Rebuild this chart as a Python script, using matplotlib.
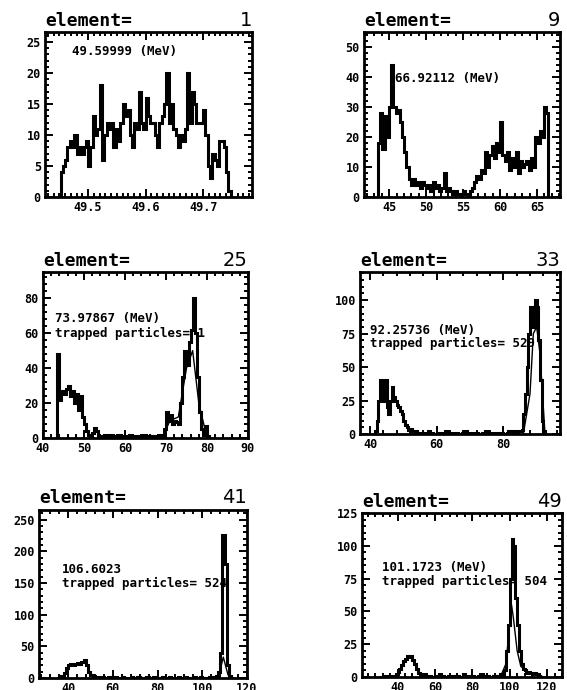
import matplotlib
matplotlib.use("Agg")

import matplotlib.pyplot as plt
import numpy as np
from matplotlib.ticker import AutoMinorLocator, MultipleLocator


# ---- data ----

elements = [1, 9, 25, 33, 41, 49]

energy_labels = [
    "49.59999 (MeV)",
    "66.92112 (MeV)",
    "73.97867 (MeV)",
    "92.25736 (MeV)",
    "106.6023",
    "101.1723 (MeV)",
]
trapped_labels = [
    None,
    None,
    "trapped particles= 1",
    "trapped particles= 529",
    "trapped particles= 524",
    "trapped particles= 504",
]

# element 1
counts_1_start, counts_1_width = 49.452, 0.004
counts_1 = [4, 5, 6, 8, 9, 8, 10, 7, 8, 7, 8, 9, 5, 8, 13, 10, 11, 18, 6, 10,
            12, 11, 12, 8, 11, 9, 12, 15, 13, 14, 10, 8, 12, 11, 17, 12, 11, 16,
            13, 12, 12, 10, 8, 12, 13, 15, 20, 12, 15, 11, 10, 8, 10, 9, 11, 20,
            12, 17, 15, 12, 12, 12, 14, 10, 5, 3, 7, 6, 5, 9, 9, 8, 4, 1]

# element 9
counts_9_start, counts_9_width = 43.5, 0.295
counts_9 = [18, 28, 16, 27, 20, 30, 44, 30, 28, 29, 25, 20, 15, 10, 6, 4, 6, 4,
            5, 3, 5, 4, 3, 4, 2, 5, 3, 4, 2, 3, 8, 2, 3, 2, 1, 2, 1, 0, 1, 2, 1,
            0, 2, 3, 5, 7, 6, 9, 8, 15, 10, 14, 17, 13, 18, 15, 25, 14, 12, 15,
            9, 13, 10, 15, 8, 12, 10, 11, 12, 9, 13, 10, 20, 18, 22, 20, 30, 28]

# element 25
counts_25_start, counts_25_width = 43.0, 0.5
counts_25 = [0, 48, 22, 27, 25, 28, 30, 24, 27, 20, 25, 16, 24, 12, 8, 4, 2, 1,
             3, 6, 4, 1, 0, 1, 2, 0, 1, 2, 1, 0, 1, 2, 0, 1, 0, 1, 2, 0, 1, 0,
             1, 1, 0, 2, 1, 0, 1, 0, 1, 0, 1, 2, 1, 5, 15, 10, 13, 8, 10, 9, 8,
             20, 35, 50, 42, 55, 62, 80, 60, 35, 15, 5, 2, 7, 1, 0]

# element 33
counts_33_start, counts_33_width = 41.0, 0.5
counts_33 = [0, 2, 10, 25, 40, 38, 25, 40, 20, 15, 25, 35, 28, 25, 22, 20, 17,
             15, 10, 7, 5, 3, 4, 2, 1, 2, 1, 0, 1, 0, 0, 1, 0, 2, 0, 1, 0, 0,
             1, 0, 1, 0, 0, 2, 0, 1, 0, 0, 1, 0, 1, 0, 0, 1, 0, 2, 0, 1, 0, 0,
             1, 0, 1, 0, 0, 1, 0, 2, 1, 0, 1, 0, 0, 1, 0, 1, 0, 1, 0, 0, 1, 2,
             1, 2, 1, 2, 1, 2, 2, 3, 15, 30, 50, 75, 95, 90, 80, 100, 95, 70,
             40, 10, 2, 0]

# element 41
counts_41_start, counts_41_width = 35.0, 1.0
counts_41 = [0, 1, 3, 8, 15, 20, 22, 20, 22, 23, 22, 25, 28, 20, 10, 5, 3, 2,
             1, 0, 1, 0, 0, 1, 0, 0, 1, 0, 0, 1, 0, 0, 0, 1, 0, 0, 1, 0, 0, 0,
             1, 0, 0, 1, 0, 0, 0, 1, 0, 0, 1, 0, 0, 0, 1, 0, 0, 1, 0, 0, 0, 1,
             0, 0, 1, 0, 0, 0, 1, 0, 1, 3, 10, 40, 225, 180, 20, 3, 0]

# element 49
counts_49_start, counts_49_width = 30.0, 1.0
counts_49 = [0, 0, 1, 0, 1, 0, 0, 1, 1, 2, 4, 6, 9, 12, 14, 16, 15, 16, 13, 10,
             6, 3, 2, 1, 2, 1, 0, 1, 0, 0, 1, 0, 2, 0, 1, 0, 0, 1, 0, 1, 0, 0,
             1, 0, 0, 2, 0, 1, 0, 0, 1, 0, 0, 1, 0, 2, 1, 0, 1, 0, 0, 1, 0, 1,
             0, 2, 1, 5, 20, 40, 75, 105, 100, 60, 40, 20, 10, 6, 5, 3, 4, 3, 2,
             3, 2, 1, 0]

# thinner overlaid curves (coarser binning seen under the peaks)
thin_25_x = [69, 71, 73, 75, 76.5, 78, 80]
thin_25_y = [0, 10, 12, 40, 50, 20, 0]
thin_33_x = [86, 88, 89, 90, 91, 92.5]
thin_33_y = [0, 30, 75, 80, 60, 0]
thin_41_x = [105, 107.5, 109.4, 111.5, 113]
thin_41_y = [0, 5, 33, 5, 0]
thin_49_x = [95, 98, 100, 101, 102, 104, 106, 110, 115, 118]
thin_49_y = [0, 10, 40, 55, 45, 20, 8, 4, 2, 0]

all_counts = [
    (counts_1_start, counts_1_width, counts_1),
    (counts_9_start, counts_9_width, counts_9),
    (counts_25_start, counts_25_width, counts_25),
    (counts_33_start, counts_33_width, counts_33),
    (counts_41_start, counts_41_width, counts_41),
    (counts_49_start, counts_49_width, counts_49),
]
thin_curves = [None, None, (thin_25_x, thin_25_y), (thin_33_x, thin_33_y),
               (thin_41_x, thin_41_y), (thin_49_x, thin_49_y)]

# ---- layout / axis settings ----

W, H = 567, 690
# axes boxes in pixels: left, top, right, bottom
boxes = [
    (45, 32, 252, 197),
    (364, 32, 560, 197),
    (43, 272, 248, 438),
    (360, 272, 560, 434),
    (39, 510, 247, 678),
    (362, 513, 562, 677),
]
xlims = [(49.425, 49.785), (41.6, 68.1), (40, 90), (37, 97), (27, 120), (21, 128)]
ylims = [(0, 26.6), (0, 55), (0, 95), (0, 121), (0, 265), (0, 125)]
xmajor = [0.1, 5, 10, 20, 20, 20]
ymajor = [5, 10, 20, 25, 50, 25]
xminor_n = [10, 5, 5, 5, 5, 5]
label_pos = [(0.13, 0.88), (0.16, 0.72), (0.06, 0.72), (0.05, 0.64),
             (0.11, 0.645), (0.10, 0.67)]
line_gap = [0, 0, 0.09, 0.08, 0.08, 0.09]

MONO = "DejaVu Sans Mono"

fig = plt.figure(figsize=(W / 100, H / 100), dpi=100)

for i, (start, width, vals) in enumerate(all_counts):
    l, t, r, b = boxes[i]
    ax = fig.add_axes([l / W, (H - b) / H, (r - l) / W, (b - t) / H])

    vals = np.array(vals, dtype=float)
    edges = start + width * np.arange(len(vals) + 1)
    ax.stairs(vals, edges, color="black", linewidth=2.2)

    if thin_curves[i] is not None:
        tx, ty = thin_curves[i]
        ax.plot(tx, ty, color="black", linewidth=1.0)

    ax.set_xlim(*xlims[i])
    ax.set_ylim(*ylims[i])
    ax.xaxis.set_major_locator(MultipleLocator(xmajor[i]))
    ax.yaxis.set_major_locator(MultipleLocator(ymajor[i]))
    ax.xaxis.set_minor_locator(AutoMinorLocator(xminor_n[i]))
    ax.yaxis.set_minor_locator(AutoMinorLocator(5))
    ax.tick_params(which="both", direction="in", top=True, right=True,
                   width=1.4, colors="black")
    ax.tick_params(which="major", length=6, labelsize=8.5, pad=3)
    ax.tick_params(which="minor", length=3)
    for lab in ax.get_xticklabels() + ax.get_yticklabels():
        lab.set_family(MONO)
        lab.set_fontweight("bold")
    if i == 0:
        ax.xaxis.set_major_formatter(plt.FormatStrFormatter("%.1f"))
    else:
        ax.xaxis.set_major_formatter(plt.FormatStrFormatter("%d"))
    ax.yaxis.set_major_formatter(plt.FormatStrFormatter("%d"))
    for s in ax.spines.values():
        s.set_linewidth(2.0)

    ax.text(0.0, 1.015, "element=", transform=ax.transAxes, ha="left",
            va="bottom", family=MONO, fontweight="bold", fontsize=13)
    ax.text(1.0, 1.015, str(elements[i]), transform=ax.transAxes, ha="right",
            va="bottom", fontsize=14)

    lx, ly = label_pos[i]
    ax.text(lx, ly, energy_labels[i], transform=ax.transAxes, ha="left",
            va="center", family=MONO, fontweight="bold", fontsize=9)
    if trapped_labels[i]:
        ax.text(lx, ly - line_gap[i], trapped_labels[i], transform=ax.transAxes,
                ha="left", va="center", family=MONO, fontweight="bold",
                fontsize=9)

fig.savefig("out.png", dpi=100)
